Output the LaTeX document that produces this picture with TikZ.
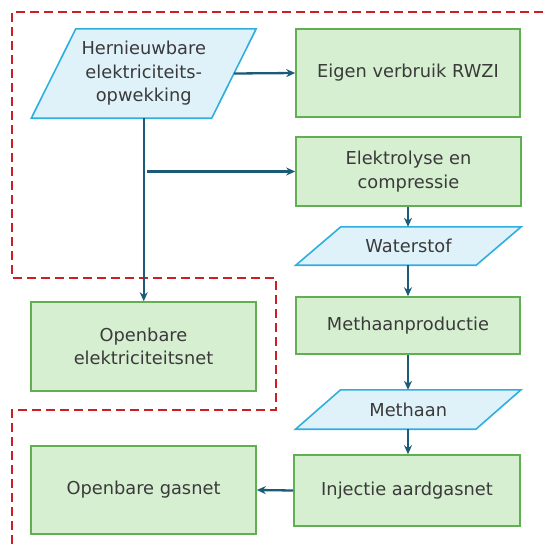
\documentclass[tikz,border=0pt]{standalone}
\usepackage{fontspec}
\setmainfont{DejaVu Sans}
\usetikzlibrary{calc,arrows.meta}
\pgfdeclarelayer{background}
\pgfsetlayers{background,main}

\definecolor{boxgreen}{HTML}{D6EFD1}
\definecolor{boxgreenline}{HTML}{62AE52}
\definecolor{parablue}{HTML}{DFF2FA}
\definecolor{parablueline}{HTML}{2FAEE0}
\definecolor{flowline}{HTML}{1B5B78}
\definecolor{zonered}{HTML}{CC1E24}
\definecolor{labeltext}{HTML}{3A3A3A}

\tikzset{
  lbl/.style={font=\fontsize{17.8}{23.5}\selectfont, text=labeltext, align=center},
  procbox/.style={lbl, rectangle, draw=boxgreenline, fill=boxgreen, line width=1.6pt, inner sep=0pt},
  paratext/.style={lbl, rectangle, minimum width=180pt, inner sep=0pt},
  parashape/.style={draw=parablueline, fill=parablue, line width=1.6pt, line join=miter},
  flow/.style={draw=flowline, line width=2.3pt, -{Stealth[length=9pt,width=8pt]}},
  zone/.style={draw=zonered, line width=2.4pt, dash pattern=on 9pt off 5pt},
}

% input/output parallelogram: name, centre, height, half slant, label
\newcommand\ioshape[5]{%
  \node[paratext, minimum height=#3] (#1) at (#2) {#5};
  \begin{pgfonlayer}{background}
    \draw[parashape] ($(#1.north west)+(#4,0)$) -- ($(#1.north east)+(#4,0)$)
      -- ($(#1.south east)-(#4,0)$) -- ($(#1.south west)-(#4,0)$) -- cycle;
  \end{pgfonlayer}
}

\begin{document}
\begin{tikzpicture}[x=1pt,y=-1pt]
  \useasboundingbox (0,0) rectangle (543,544);

  % system boundary
  \draw[zone] (543,12) -- (12,12) -- (12,278) -- (276,278) -- (276,410) -- (12,410) -- (12,544);

  % blocks
  \ioshape{hern}{143.75,73.5}{89pt}{22.25}{Hernieuwbare\\elektriciteits-\\opwekking}
  \node[procbox, minimum width=224pt, minimum height=88pt] (eigen) at (408,73) {Eigen verbruik RWZI};
  \node[procbox, minimum width=225pt, minimum height=69pt] (elek) at (408.5,171.5) {Elektrolyse en\\compressie};
  \ioshape{water}{408.5,246}{38pt}{22.5}{Waterstof}
  \node[procbox, minimum width=224pt, minimum height=57pt] (meth) at (408,325.5) {Methaanproductie};
  \ioshape{methaan}{408.25,409.5}{39pt}{22.5}{Methaan}
  \node[procbox, minimum width=226pt, minimum height=71pt] (inj) at (407,490.5) {Injectie aardgasnet};
  \node[procbox, minimum width=225pt, minimum height=89pt] (opene) at (143.5,346.5) {Openbare\\elektriciteitsnet};
  \node[procbox, minimum width=225pt, minimum height=88pt] (openg) at (143.5,490) {Openbare gasnet};

  % connectors
  \coordinate (branch) at (hern.south |- elek.west);
  \draw[flow] (hern.east) -- (eigen.west);
  \draw[flow] (hern.south) -- (hern.south |- opene.north);
  \draw[flow] ($(branch)+(3,0)$) -- (elek.west);
  \draw[flow] (elek.south -| 408,0) -- (408,0 |- water.north);
  \draw[flow] (water.south -| 408,0) -- (408,0 |- meth.north);
  \draw[flow] (meth.south -| 408,0) -- (408,0 |- methaan.north);
  \draw[flow] (methaan.south -| 408,0) -- (408,0 |- inj.north);
  \draw[flow] (inj.west) -- (openg.east);
\end{tikzpicture}
\end{document}
